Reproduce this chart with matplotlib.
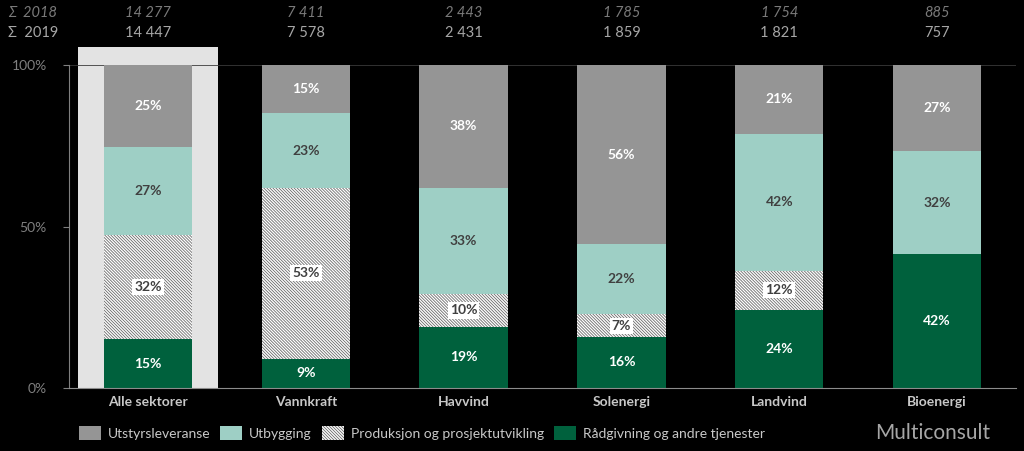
import matplotlib
matplotlib.use("Agg")
import matplotlib.pyplot as plt
from matplotlib.patches import Rectangle, Patch
import numpy as np

plt.rcParams['hatch.linewidth'] = 0.6
plt.rcParams['font.family'] = ['Lato', 'DejaVu Sans']

categories = ["Alle sektorer", "Vannkraft", "Havvind", "Solenergi", "Landvind", "Bioenergi"]
sum_2018 = ["14 277", "7 411", "2 443", "1 785", "1 754", "885"]
sum_2019 = ["14 447", "7 578", "2 431", "1 859", "1 821", "757"]

radgivning = [15, 9, 19, 16, 24, 42]
produksjon = [32, 53, 10, 7, 12, 0]
utbygging = [27, 23, 33, 22, 42, 32]
utstyr = [25, 15, 38, 56, 21, 27]

series_names = ["Rådgivning og andre tjenester", "Produksjon og prosjektutvikling",
                "Utbygging", "Utstyrsleveranse"]
series = [radgivning, produksjon, utbygging, utstyr]
HATCH = "\\" * 11
HATCH_COLOR = "#6a6a6a"
colors = ["#00613d", "white", "#9ecfc5", "#959595"]
hatches = [None, HATCH, None, None]
label_colors = ["white", "#404040", "#404040", "white"]

fig = plt.figure(figsize=(10.24, 4.51), dpi=100, facecolor="black")
ax = fig.add_axes([69/1024, (451-388)/451, (1016-69)/1024, 323/451])
ax.set_facecolor("black")

x = np.arange(len(categories))
data = np.array(series, dtype=float)
totals = data.sum(axis=0)
shares = data / totals * 100

# highlight box behind first bar
ax.add_patch(Rectangle((-0.445, 0), 0.89, 105.6, facecolor="#e3e3e3", edgecolor="none",
                       zorder=0, clip_on=False))
ax.axhline(100, color="#3a3a3a", lw=1.2, zorder=0.5)

bottom = np.zeros(len(categories))
for i, (name, vals) in enumerate(zip(series_names, shares)):
    ax.bar(x, vals, 0.56, bottom=bottom, color=colors[i], hatch=hatches[i],
           edgecolor=HATCH_COLOR if hatches[i] else "none", lw=0, zorder=2)
    for j in range(len(categories)):
        if data[i][j] <= 0:
            continue
        yc = bottom[j] + vals[j] / 2
        bbox = dict(facecolor="white", edgecolor="none", pad=1.5) if hatches[i] else None
        ax.text(x[j], yc, f"{int(data[i][j])}%", ha="center", va="center",
                color=label_colors[i], fontsize=10, fontweight="bold", bbox=bbox, zorder=3)
    bottom += vals

ax.set_xlim(-0.5, 5.5)
ax.set_ylim(0, 100)
ax.set_yticks([0, 50, 100])
ax.set_yticklabels(["0%", "50%", "100%"])
ax.tick_params(axis="y", colors="#7f7f7f", labelsize=10, length=4, direction="out", pad=12)
ax.set_xticks(x)
ax.set_xticklabels(categories, fontweight="bold", color="#c8c8c8", fontsize=10)
ax.tick_params(axis="x", length=0, pad=6)
for s in ["top", "right"]:
    ax.spines[s].set_visible(False)
ax.spines["left"].set_color("#7f7f7f")
ax.spines["bottom"].set_color("#8c8c8c")

# sums on top
for j in range(len(categories)):
    xc = (69 + (j + 0.5) * (947/6)) / 1024
    fig.text(xc, 1 - 13/451, sum_2018[j], ha="center", va="center",
             color="#7a7a7a", fontsize=10.5, style="italic")
    fig.text(xc, 1 - 33/451, sum_2019[j], ha="center", va="center",
             color="#a6a6a6", fontsize=10.5)
fig.text(8/1024, 1 - 13/451, "Σ  2018", ha="left", va="center", color="#7a7a7a",
         fontsize=10.5, style="italic")
fig.text(8/1024, 1 - 33/451, "Σ  2019", ha="left", va="center", color="#a6a6a6", fontsize=10.5)

# legend
handles = [Patch(facecolor="#959595", edgecolor="none", label="Utstyrsleveranse"),
           Patch(facecolor="#9ecfc5", edgecolor="none", label="Utbygging"),
           Patch(facecolor="white", edgecolor=HATCH_COLOR, lw=0, hatch=HATCH,
                 label="Produksjon og prosjektutvikling"),
           Patch(facecolor="#00613d", edgecolor="none", label="Rådgivning og andre tjenester")]
leg = fig.legend(handles=handles, loc="center left", bbox_to_anchor=(66/1024, 1 - 433/451),
                 ncol=4, frameon=False, fontsize=10, handlelength=1.6, handleheight=1.1,
                 columnspacing=0.7, handletextpad=0.5)
for t in leg.get_texts():
    t.set_color("#c8c8c8")

fig.text(933/1024, 1 - 433/451, "Multiconsult", ha="center", va="center", color="#a6a6a6",
         fontsize=15)

fig.savefig("out.png", dpi=100, facecolor="black")
